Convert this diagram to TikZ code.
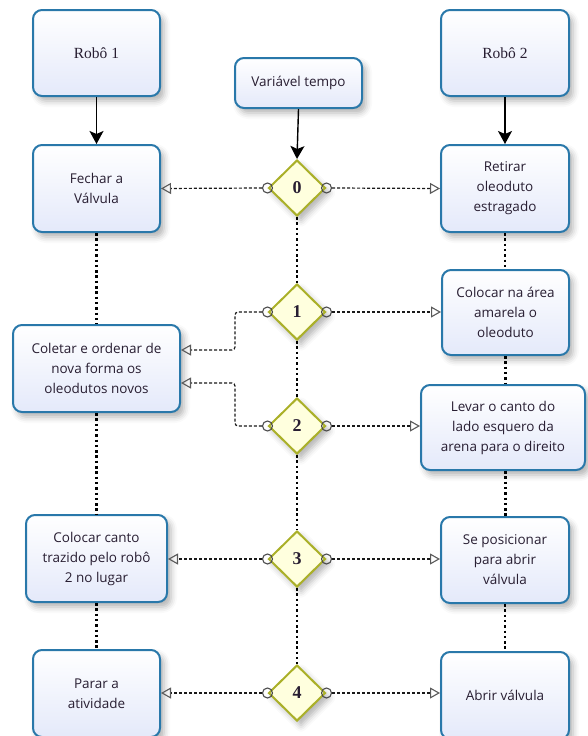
\documentclass[tikz,border=0pt]{standalone}
\usepackage{fontspec}
\newfontfamily\boxfont{Open Sans}
\newfontfamily\serfont{Liberation Serif}
\usetikzlibrary{arrows.meta,shapes.geometric,shadows.blur}
\definecolor{boxblue}{RGB}{41,120,170}
\definecolor{boxfill}{RGB}{228,233,250}
\definecolor{dborder}{RGB}{170,176,40}
\definecolor{dfill}{RGB}{255,255,222}
\definecolor{textcol}{RGB}{40,30,50}
\tikzset{
  procbox/.style={rectangle, rounded corners=9pt, draw=boxblue, line width=2pt,
    top color=white, bottom color=boxfill,
    blur shadow={shadow xshift=4pt, shadow yshift=-5pt, shadow blur radius=6pt, shadow opacity=30},
    align=center, font=\boxfont\fontsize{13.5}{20}\selectfont, text=textcol, inner sep=0pt},
  robbox/.style={procbox, font=\serfont\fontsize{15.5}{20}\selectfont},
  gate/.style={diamond, draw=dborder, line width=2pt, fill=dfill, inner sep=0pt,
    minimum width=57pt, minimum height=56pt,
    blur shadow={shadow xshift=4pt, shadow yshift=-5pt, shadow blur radius=6pt, shadow opacity=30},
    font=\serfont\bfseries\fontsize{18}{20}\selectfont, text=textcol},
  port/.style={circle, draw=black!70, line width=1.1pt, minimum size=10pt, inner sep=0pt},
  solidarrow/.style={draw=black, line width=1.4pt, -{Stealth[length=13pt, width=14pt, inset=3pt]}},
  dashlink/.style={draw=black!90, line width=1.2pt, dash pattern=on 3pt off 2pt,
    -{Triangle[open, length=10pt, width=11pt, line width=1.1pt, color=black!65]}},
  dotline/.style={draw=black, line width=2.5pt, dash pattern=on 2.5pt off 2.8pt}
}
\begin{document}
\begin{tikzpicture}[x=1pt,y=1pt]
\useasboundingbox (0,0) rectangle (587,-736);
% boxes
\node[robbox, minimum width=127pt, minimum height=86pt] (r1) at (96.5,-53) {Robô 1};
\node[robbox, minimum width=128pt, minimum height=86pt] (r2) at (505,-53) {Robô 2};
\node[procbox, minimum width=127pt, minimum height=50pt] (var) at (298.5,-83) {Variável tempo};
\node[procbox, minimum width=127pt, minimum height=87pt] (fechar) at (96.5,-188.5) {Fechar a\\Válvula};
\node[procbox, minimum width=128pt, minimum height=87pt] (retirar) at (505,-188.5) {Retirar\\oleoduto\\estragado};
\node[procbox, minimum width=127pt, minimum height=85pt] (area) at (505.5,-312.5) {Colocar na área\\amarela o\\oleoduto};
\node[procbox, minimum width=167pt, minimum height=87pt] (coletar) at (96.5,-368.5) {Coletar e ordenar de\\nova forma os\\oleodutos novos};
\node[procbox, minimum width=164pt, minimum height=85pt] (levar) at (503,-427.5) {Levar o canto do\\lado esquero da\\arena para o direito};
\node[procbox, minimum width=141pt, minimum height=87pt] (canto) at (96.5,-558.5) {Colocar canto\\trazido pelo robô\\2 no lugar};
\node[procbox, minimum width=128pt, minimum height=86pt] (posic) at (505,-560) {Se posicionar\\para abrir\\válvula};
\node[procbox, minimum width=127pt, minimum height=87pt] (parar) at (96.5,-693.5) {Parar a\\atividade};
\node[procbox, minimum width=128pt, minimum height=87pt] (abrir) at (505,-695.5) {Abrir válvula};
% diamonds
\node[gate] (d0) at (297,-188) {0};
\node[gate] (d1) at (297,-312) {1};
\node[gate] (d2) at (297,-426) {2};
\node[gate] (d3) at (297,-559) {3};
\node[gate] (d4) at (297,-693) {4};
% solid arrows
\draw[solidarrow] (r1) -- (fechar);
\draw[solidarrow] (r2) -- (retirar);
\draw[solidarrow] (var.south) -- (d0.north);
% dotted lifelines
\draw[dotline] (fechar.south) -- (coletar.north);
\draw[dotline] (coletar.south) -- (canto.north);
\draw[dotline] (canto.south) -- (parar.north);
\draw[dotline] (d0.south) -- (d1.north);
\draw[dotline] (d1.south) -- (d2.north);
\draw[dotline] (d2.south) -- (d3.north);
\draw[dotline] (d3.south) -- (d4.north);
\draw[dotline] (retirar.south) -- (retirar.south |- area.north);
\draw[dotline] (area.south) -- (area.south |- levar.north);
\draw[dotline] (area.south |- levar.south) -- (area.south |- posic.north);
\draw[dotline] (posic.south) -- (abrir.north);
% ports
\foreach \d in {0,...,4}{
  \node[port] (p\d l) at (d\d.west) {};
  \node[port] (p\d r) at (d\d.east) {};
}
% dashed links
\draw[dashlink] (p0l.west) -- (fechar.east);
\draw[dashlink] (p0r.east) -- (retirar.west);
\draw[dashlink] (p1r.east) -- (p1r.east -| area.west);
\draw[dashlink, rounded corners=3pt] (p1l.west) -- (235,-312) |- ([yshift=18.5pt]coletar.east);
\draw[dashlink, rounded corners=3pt] (p2l.west) -- (235,-426) |- ([yshift=-14.5pt]coletar.east);
\draw[dashlink] (p2r.east) -- (p2r.east -| levar.west);
\draw[dashlink] (p3l.west) -- (p3l.west -| canto.east);
\draw[dashlink] (p3r.east) -- (p3r.east -| posic.west);
\draw[dashlink] (p4l.west) -- (p4l.west -| parar.east);
\draw[dashlink] (p4r.east) -- (p4r.east -| abrir.west);
\end{tikzpicture}
\end{document}
